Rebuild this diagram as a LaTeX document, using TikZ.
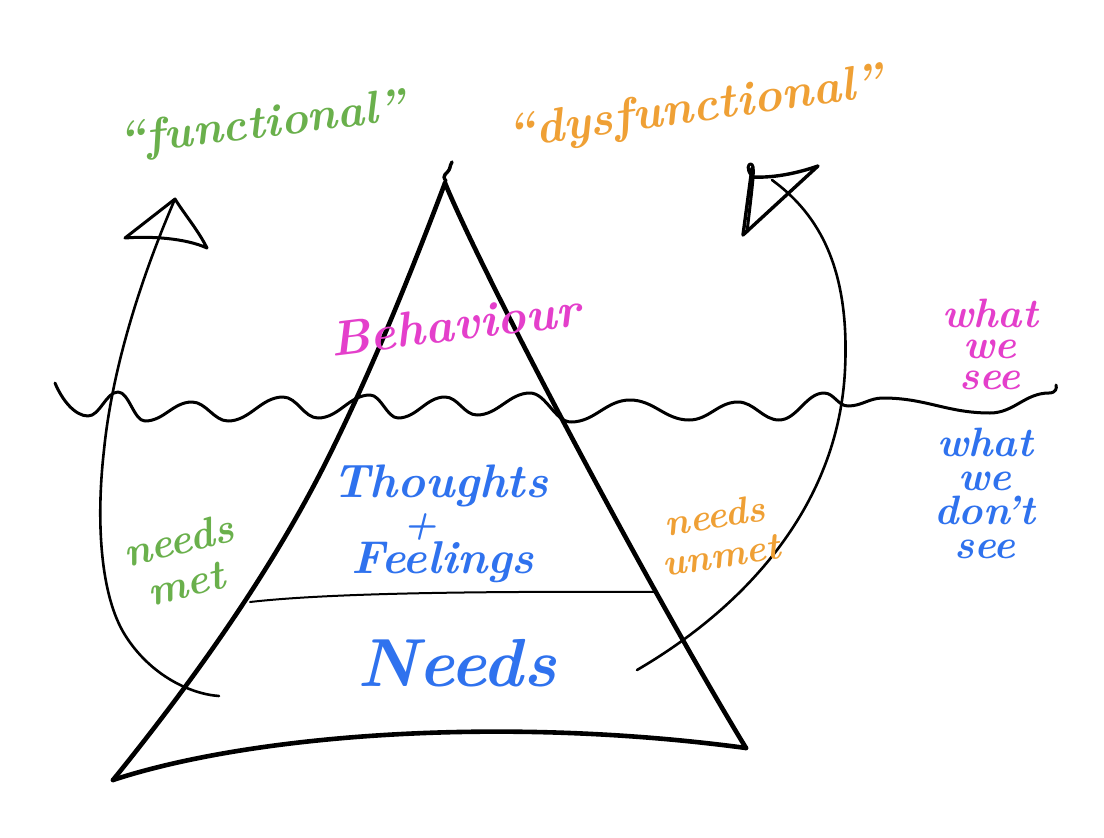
\documentclass[tikz,border=0pt]{standalone}
\definecolor{fgreen}{HTML}{6AB04C}
\definecolor{forange}{HTML}{EFA035}
\definecolor{fmag}{HTML}{E43FCB}
\definecolor{fblue}{HTML}{2F72EE}
\tikzset{
  ice/.style={line width=4.6pt, line cap=round, line join=round},
  pen/.style={line width=2.6pt, line cap=round, line join=round},
  hand/.style={inner sep=0pt, align=center},
  fs/.style={font={\fontsize{#1}{#1}\selectfont\bfseries\itshape}}
}
\begin{document}
\begin{tikzpicture}[x=1pt,y=-1pt]
\path[fill=white,use as bounding box] (0,0) rectangle (1104,838);

% iceberg
\coordinate (apex) at (445,183);
\coordinate (bl) at (113,780);
\coordinate (br) at (746,748);
\coordinate (lmid) at (327,460);
\draw[ice] (apex) .. controls (411,273) and (372,370) .. (lmid) .. controls (272,570) and (194,680) .. (bl);
\draw[ice] (bl) .. controls (250,735) and (500,715) .. (br);
\draw[ice] (apex) .. controls (485,280) and (650,590) .. (br);
\draw[pen,line width=3.4pt] (446,181) .. controls (441,175) and (447,174) .. (449,170) .. controls (451,166) and (450,164) .. (452,162);
\coordinate (layl) at (250,602);
\coordinate (layr) at (655,592);
\draw[line width=2pt,line cap=round] (layl) .. controls (320,594) and (450,591) .. (layr);

% water line
\coordinate (wstart) at (55,383);
\coordinate (wend) at (1056,385);
\draw[line width=3pt,line cap=round,line join=round] (wstart)
  .. controls (62,400) and (75,416) .. (88,416)
  .. controls (100,416) and (106,392) .. (118,392)
  .. controls (129,392) and (134,421) .. (145,421)
  .. controls (164,421) and (173,402) .. (192,402)
  .. controls (206,402) and (214,421) .. (228,421)
  .. controls (250,421) and (261,397) .. (283,397)
  .. controls (297,397) and (304,418) .. (318,418)
  .. controls (339,418) and (349,395) .. (370,395)
  .. controls (381,395) and (387,418) .. (398,418)
  .. controls (417,418) and (426,397) .. (445,397)
  .. controls (458,397) and (464,415) .. (477,415)
  .. controls (498,415) and (509,393) .. (530,393)
  .. controls (546,393) and (555,422) .. (571,422)
  .. controls (595,422) and (606,400) .. (630,400)
  .. controls (654,400) and (665,420) .. (689,420)
  .. controls (709,420) and (718,402) .. (738,402)
  .. controls (754,402) and (763,420) .. (779,420)
  .. controls (797,420) and (806,393) .. (824,393)
  .. controls (834,393) and (838,406) .. (848,406)
  .. controls (862,406) and (869,398) .. (883,398)
  .. controls (926,398) and (947,413) .. (990,413)
  .. controls (1014,413) and (1025,393) .. (1049,393)
  .. controls (1056,393) and (1057,388) .. (wend);

% left arrow (needs met -> functional)
\coordinate (lstart) at (219,696);
\coordinate (ltip) at (175,199);
\coordinate (lL) at (125,238);
\coordinate (lR) at (207,248);
\draw[pen] (lstart) .. controls (190,694) and (150,675) .. (125,635)
  .. controls (100,595) and (96,520) .. (104,450)
  .. controls (112,370) and (140,280) .. (ltip);
\draw[pen,line width=3pt] (lL) -- (ltip) .. controls (185,215) and (198,230) .. (lR) .. controls (185,238) and (150,236) .. (lL) -- cycle;

% right arrow (needs unmet -> dysfunctional)
\coordinate (rstart) at (637,670);
\coordinate (rtip) at (772,180);
\coordinate (rA) at (752,168);
\coordinate (rB) at (743,235);
\coordinate (rC) at (818,166);
\draw[pen] (rstart) .. controls (740,610) and (838,510) .. (845,370) .. controls (850,270) and (820,215) .. (rtip);
\draw[pen,line width=3.4pt] (rA) -- (rB) -- (rC) .. controls (795,174) and (772,178) .. (752,177);
\draw[pen,line width=3pt] (752,176) .. controls (746,170) and (748,163) .. (751,164) .. controls (755,166) and (754,172) .. (747,232);

% labels
\node[hand,fs=46,text=fgreen,rotate=7] (functional) at (262,126) {``functional''};
\node[hand,fs=48,text=forange,rotate=8] (dysfunctional) at (695,110) {``dysfunctional''};
\node[hand,fs=49,text=fmag,rotate=7] (behaviour) at (455,324) {Behaviour};
\node[hand,text=fmag,font={\fontsize{41}{31}\selectfont\bfseries\itshape}] (see) at (990,344) {what\\we\\see};
\node[hand,text=fblue,font={\fontsize{41}{34}\selectfont\bfseries\itshape}] (dontsee) at (985,493) {what\\we\\don't\\see};
\node[hand,fs=47,text=fblue,anchor=base] (thoughts) at (440,497) {Thoughts};
\node[hand,fs=38,text=fblue] (plus) at (420,527) {+};
\node[hand,fs=46,text=fblue,anchor=base] (feelings) at (443,573) {Feelings};
\node[hand,fs=68,text=fblue,anchor=base] (needs) at (457,686) {Needs};
\node[hand,fs=42,text=fgreen,rotate=14] (metA) at (178,540) {needs};
\node[hand,fs=42,text=fgreen,rotate=14] (metB) at (186,584) {met};
\node[hand,text=forange,rotate=9,font={\fontsize{38}{40}\selectfont\bfseries\itshape}] (unmet) at (718,535) {needs\\unmet};
\end{tikzpicture}
\end{document}
